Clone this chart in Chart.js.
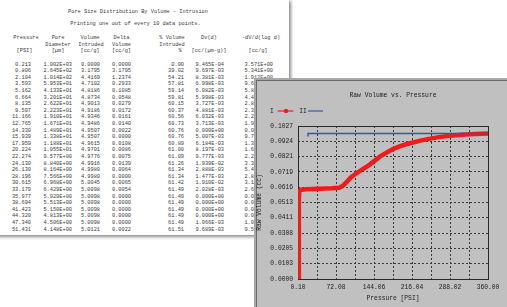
<!DOCTYPE html>
<html>
<head>
<meta charset="utf-8">
<script src="https://cdn.jsdelivr.net/npm/chart.js@4.4.1/dist/chart.umd.min.js"></script>
<style>
  html, body { margin: 0; padding: 0; background: #fff; }
  body { width: 507px; height: 307px; overflow: hidden; position: relative; font-family: 'Liberation Mono', monospace; }
  #doc { position: absolute; left: -10px; top: -1px; width: 299px; height: 236px; background: #fff; box-shadow: 2px 2px 3px rgba(0,0,0,0.45); }
  #report { position: absolute; left: 0; top: 0; width: 300px; height: 240px; font-size: 5.3px; color: #3a3a3a; }
  #report span { position: absolute; white-space: pre; line-height: 1; }
  #win { position: absolute; left: 254px; top: 78px; width: 260px; height: 240px; background: #c0c0c0; border-left: 2px solid #a8a8a8; border-top: 2px solid #a8a8a8; box-sizing: border-box; }
  #win .inner { position: absolute; left: 0; top: 0; right: 0; bottom: 0; border-left: 1px solid #6a6a6a; border-top: 1px solid #6a6a6a; }
  #chart { position: absolute; left: 255px; top: 80px; }
</style>
</head>
<body>
<div id="doc"></div>
<div id="report"></div>
<div id="win"><div class="inner"></div></div>
<canvas id="chart" width="252" height="227"></canvas>
<script>
// ---- report table (printed every 10th point) ----
var pressure = ['0.213','0.806','2.104','3.593','5.162','6.664','8.135','9.597','11.166','12.765','14.330','15.939','17.959',
  '20.224','22.274','24.130','26.130','28.196','30.615','33.179','35.977','38.694','41.423','44.320','47.340','51.431'];
var poreDiameter = ['1.002E+03','2.645E+02','1.014E+02','5.953E+01','4.133E+01','3.201E+01','2.622E+01','2.223E+01','1.910E+01',
  '1.671E+01','1.489E+01','1.338E+01','1.188E+01','1.055E+01','9.577E+00','8.840E+00','8.164E+00','7.566E+00','6.968E+00',
  '6.429E+00','5.929E+00','5.513E+00','5.150E+00','4.813E+00','4.506E+00','4.148E+00'];
var volumeIntruded = ['0.0000','3.1795','4.4169','4.7102','4.8186','4.8734','4.9013','4.9186','4.9346','4.9486','4.9507','4.9507',
  '4.9615','4.9701','4.9776','4.9916','4.9980','4.9980','5.0045','5.0098','5.0098','5.0098','5.0098','5.0098','5.0098','5.0121'];
var deltaVolume = ['0.0000','3.1795','1.2374','0.2933','0.1085','0.0548','0.0279','0.0172','0.0161','0.0140','0.0022','0.0000',
  '0.0108','0.0086','0.0075','0.0139','0.0064','0.0000','0.0065','0.0054','0.0000','0.0000','0.0000','0.0000','0.0000','0.0022'];
var pctIntruded = ['0.00','39.02','54.21','57.81','59.14','59.81','60.15','60.37','60.56','60.73','60.76','60.76','60.89','61.00',
  '61.09','61.26','61.34','61.34','61.42','61.49','61.49','61.49','61.49','61.49','61.49','61.51'];
var dvd = ['9.465E-04','9.697E-03','8.381E-03','6.998E-03','6.082E-03','5.998E-03','3.727E-03','4.881E-03','6.032E-03','3.713E-03',
  '0.000E+00','5.007E-03','6.184E-03','8.197E-03','9.777E-03','1.939E-02','2.888E-03','1.477E-03','1.910E-02','2.028E-03',
  '0.000E+00','0.000E+00','0.000E+00','0.000E+00','1.066E-03','9.689E-03'];
var dvdLogD = ['3.571E+00','5.341E+00','1.912E+00','9.603E-01','5.874E-01','4.473E-01','2.886E-01','2.341E-01','2.279E-01',
  '1.955E-01','0.000E+00','9.716E-02','1.332E-01','1.664E-01','2.249E-01','3.361E-01','5.487E-01','2.810E-01','3.121E-01',
  '2.680E-01','0.000E+00','0.000E+00','0.000E+00','0.000E+00','1.039E-01','9.572E-02'];

// ---- chart data: Raw Volume vs. Pressure ----
var pressureI = [1.5, 1.5, 1.8, 2.5, 5, 15, 40, 65, 78, 85, 92, 100, 117, 136, 155, 170, 180, 195, 212, 232, 253, 270, 288, 310, 335, 360];
var volumeI = [0.0000, 0.0300, 0.0540, 0.0585, 0.0598, 0.0603, 0.0606, 0.0609, 0.0613, 0.0625, 0.0650, 0.0682, 0.0725, 0.0768,
  0.0821, 0.0853, 0.0872, 0.0893, 0.0911, 0.0929, 0.0944, 0.0954, 0.0962, 0.0969, 0.0974, 0.0977];
var pressureII = [17.6, 19, 360];
var volumeII = [0.0962, 0.0977, 0.0977];

var xTickValues = [0.10, 36.09, 72.08, 108.07, 144.06, 180.05, 216.04, 252.03, 288.02, 324.01, 360.00];
var xTickLabels = ['0.10', '', '72.08', '', '144.06', '', '216.04', '', '288.02', '', '360.00'];
var yTickValues = [0, 0.01027, 0.02054, 0.03081, 0.04108, 0.05135, 0.06162, 0.07189, 0.08216, 0.09243, 0.1027];
var yTickLabels = ['0.0000', '0.0103', '0.0205', '0.0308', '0.0411', '0.0513', '0.0616', '0.0719', '0.0821', '0.0924', '0.1027'];

// ---- write the report text ----
var report = document.getElementById('report');
function put(text, x, y, align) {
  var s = document.createElement('span');
  s.textContent = text;
  s.style.left = x + 'px';
  s.style.top = y + 'px';
  var dx = align == 'right' ? -100 : (align == 'center' ? -50 : 0);
  s.style.transform = 'translate(' + dx + '%, -50%)';
  report.appendChild(s);
}
put('Pore Size Distribution By Volume - Intrusion', 138, 12.7, 'center');
put('Printing one out of every 10 data points.', 135.5, 25.3, 'center');

var headers = [
  [['Pressure', 26], ['Pore', 58], ['Volume', 90], ['Delta', 121.5], ['% Volume', 172], ['Dv(d)', 209], ['-dV/d(log d)', 261]],
  [['Diameter', 58], ['Intruded', 91], ['Volume', 121.5], ['Intruded', 172]],
  [['[PSI]', 24.5], ['[\u00b5m]', 58], ['[cc/g]', 90], ['[cc/g]', 121.5], ['%', 180], ['[cc/(\u00b5m-g)]', 209], ['[cc/g]', 258]]
];
var headerY = [39, 45.7, 52.3];
headers.forEach(function(line, i) {
  line.forEach(function(h) { put(h[0], h[1], headerY[i], 'center'); });
});

var columns = [pressure, poreDiameter, volumeIntruded, deltaVolume, pctIntruded, dvd, dvdLogD];
var colRight = [31, 72, 100, 131, 184, 224, 273];
columns.forEach(function(col, c) {
  for (var i = 0; i < col.length; i++) {
    put(col[i], colRight[c], 65.5 + i * 6.6, 'right');
  }
});

// ---- chart ----
var FONT = "'Liberation Mono', monospace";
Chart.defaults.font.family = FONT;
Chart.defaults.font.size = 6.3;
Chart.defaults.color = '#202020';

function toPoints(xs, ys) {
  return xs.map(function(x, i) { return { x: x, y: ys[i] }; });
}

// solid frame round the plot area, drawn under the curves
var framePlugin = {
  id: 'frame',
  beforeDatasetsDraw: function(chart) {
    var a = chart.chartArea, ctx = chart.ctx;
    ctx.save();
    ctx.strokeStyle = '#2a2a2a';
    ctx.lineWidth = 1;
    ctx.strokeRect(Math.round(a.left) + 0.5, Math.round(a.top) + 0.5, Math.round(a.right - a.left), Math.round(a.bottom - a.top));
    ctx.restore();
  }
};

// title and the "I / II" legend row
var headPlugin = {
  id: 'head',
  afterDraw: function(chart) {
    var ctx = chart.ctx, a = chart.chartArea;
    var ds = chart.data.datasets;
    ctx.save();
    ctx.font = '6.3px ' + FONT;
    ctx.fillStyle = '#202020';
    ctx.textAlign = 'center';
    ctx.textBaseline = 'middle';
    ctx.fillText('Raw Volume vs. Pressure', (a.left + a.right) / 2, 15);

    ctx.fillText(ds[0].label, 17, 31);
    ctx.strokeStyle = ds[0].borderColor;
    ctx.lineWidth = 1.2;
    ctx.beginPath(); ctx.moveTo(22.7, 31); ctx.lineTo(38.3, 31); ctx.stroke();
    ctx.fillStyle = ds[0].borderColor;
    ctx.beginPath(); ctx.arc(31, 31, 2.2, 0, Math.PI * 2); ctx.fill();

    ctx.fillStyle = '#202020';
    ctx.fillText(ds[1].label, 48, 31);
    ctx.strokeStyle = ds[1].borderColor;
    ctx.lineWidth = 1.2;
    ctx.beginPath(); ctx.moveTo(53, 31); ctx.lineTo(68, 31); ctx.stroke();
    ctx.restore();
  }
};

var gridStyle = { color: '#3a3a3a', lineWidth: 1, drawTicks: false };

new Chart(document.getElementById('chart').getContext('2d'), {
  type: 'line',
  data: {
    datasets: [
      {
        label: 'I',
        data: toPoints(pressureI, volumeI),
        borderColor: '#f01c1c',
        borderWidth: 4.5,
        pointRadius: 0,
        tension: 0,
        order: 2
      },
      {
        label: 'II',
        data: toPoints(pressureII, volumeII),
        borderColor: '#3a55a8',
        borderWidth: 1.5,
        pointRadius: 0,
        tension: 0,
        order: 1
      }
    ]
  },
  options: {
    responsive: false,
    animation: false,
    devicePixelRatio: 1,
    layout: { padding: { top: 46, right: 19, left: 0, bottom: 0 } },
    plugins: {
      legend: { display: false },
      title: { display: false },
      tooltip: { enabled: false }
    },
    scales: {
      x: {
        type: 'linear',
        min: 0.1,
        max: 360,
        afterBuildTicks: function(s) { s.ticks = xTickValues.map(function(v) { return { value: v }; }); },
        afterFit: function(s) { s.height = 28; },
        ticks: {
          padding: 5,
          autoSkip: false,
          maxRotation: 0,
          minRotation: 0,
          callback: function(v, i) { return xTickLabels[i]; }
        },
        grid: gridStyle,
        border: { display: false, dash: [2, 2] },
        title: { display: true, text: 'Pressure [PSI]', padding: { top: 0, bottom: 5.2 } }
      },
      y: {
        type: 'linear',
        min: 0,
        max: 0.1027,
        afterBuildTicks: function(s) { s.ticks = yTickValues.map(function(v) { return { value: v }; }); },
        afterFit: function(s) { s.width = 43; },
        ticks: {
          padding: 5,
          autoSkip: false,
          callback: function(v, i) { return yTickLabels[i]; }
        },
        grid: gridStyle,
        border: { display: false, dash: [2, 2] },
        title: { display: true, text: 'Raw Volume (cc)', padding: { top: 0.7, bottom: 0 } }
      }
    }
  },
  plugins: [framePlugin, headPlugin]
});
</script>
</body>
</html>
